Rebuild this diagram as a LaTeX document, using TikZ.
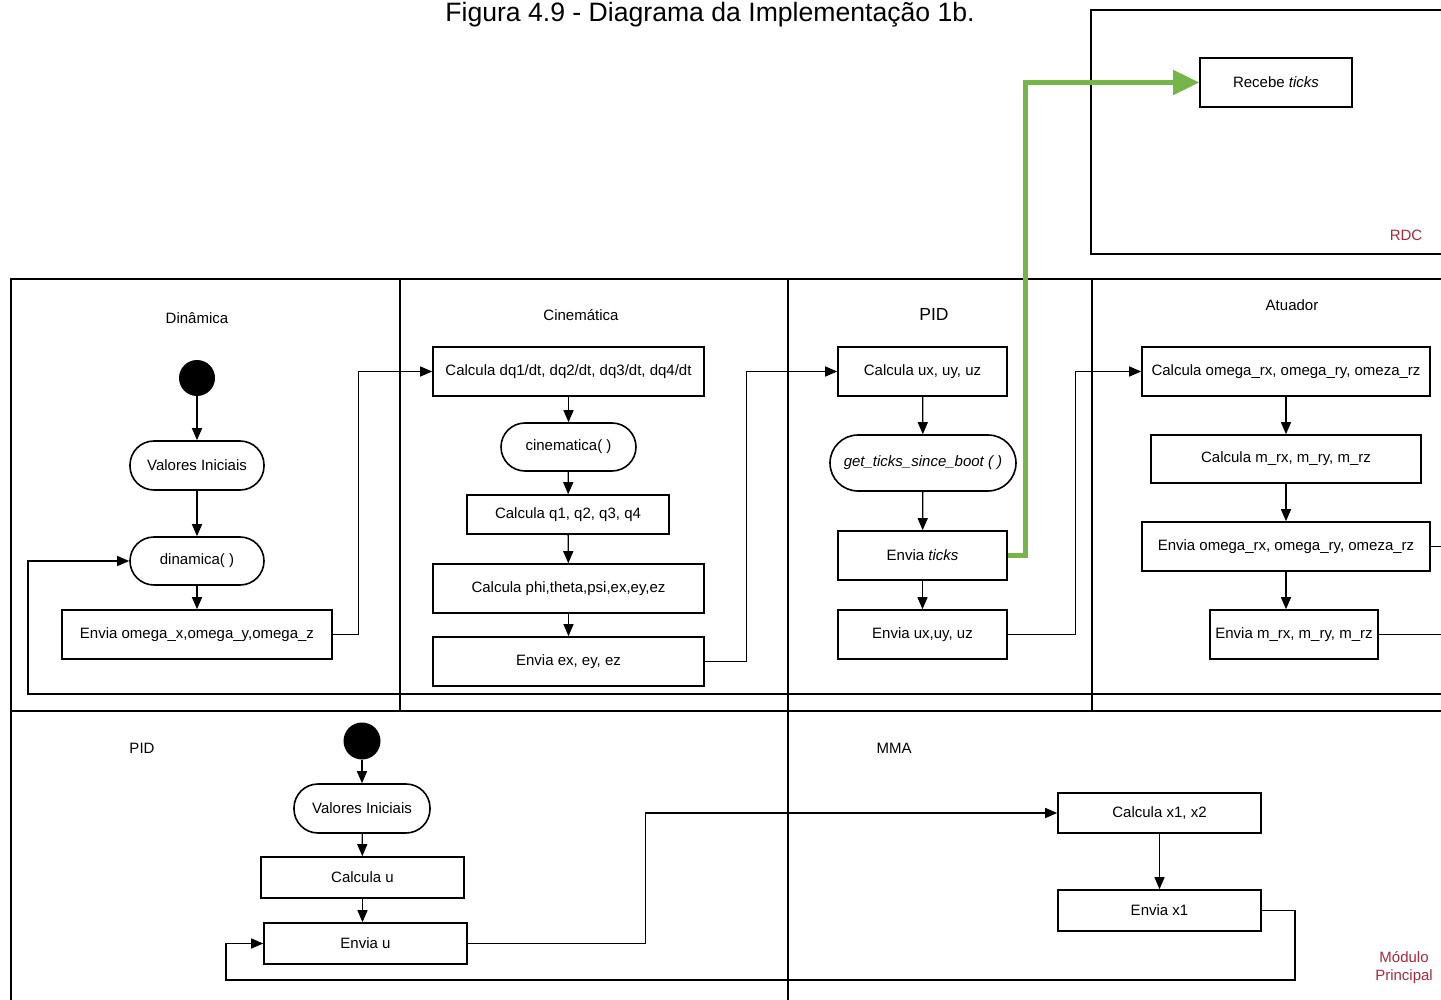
\documentclass[tikz,border=0pt]{standalone}
\usepackage{fontspec}
\setmainfont{Liberation Sans}
\usetikzlibrary{arrows.meta}
\definecolor{gr}{RGB}{118,182,72}
\definecolor{rd}{RGB}{170,40,60}
\begin{document}
\begin{tikzpicture}[x=1pt,y=-1pt,
  txt/.style={font=\fontsize{15}{18}\selectfont},
  box/.style={draw, line width=1.6pt, inner sep=0pt, txt},
  stad/.style={box, rounded corners=#1},
  stad/.default=24pt,
  conn/.style={line width=1.3pt, -{Triangle[length=12pt,width=10pt]}},
  plain/.style={line width=1.3pt},
  frame/.style={line width=1.8pt},
  dot/.style={circle, fill=black, minimum size=36pt, inner sep=0pt},
  head/.style={txt, inner sep=0pt},
]
\useasboundingbox (0,0) rectangle (1441,1000);

% title
\node[anchor=base, inner sep=0pt, font=\fontsize{26.6}{30}\selectfont] (title) at (710,22) {Figura 4.9 - Diagrama da Implementação 1b.};

% frames
\draw[frame] (11,1000) -- (11,279) -- (1441,279);
\draw[frame] (11,711) -- (1441,711);
\draw[frame] (400,279) -- (400,711);
\draw[frame] (788,279) -- (788,1000);
\draw[frame] (1092,279) -- (1092,711);
\draw[frame] (1441,10) -- (1091,10) -- (1091,254) -- (1441,254);

% headings
\node[head] (hdin) at (197,318) {Dinâmica};
\node[head] (hcin) at (581,315) {Cinemática};
\node[head, font=\fontsize{17.5}{20}\selectfont] (hpid) at (934,314) {PID};
\node[head] (hatu) at (1292,305) {Atuador};
\node[head] (hpid2) at (142,748) {PID};
\node[head] (hmma) at (894,748) {MMA};
\node[head, text=rd] (hrdc) at (1406,235) {RDC};
\node[head, text=rd, align=center] (hmp) at (1404,968) {Módulo\\Principal};

% RDC
\node[box, minimum width=152pt, minimum height=49pt] (rt) at (1276,82.5) {Recebe \textit{ticks}};

% Dinamica lane
\node[dot] (s1) at (197,378) {};
\node[stad, minimum width=134pt, minimum height=49pt] (vi1) at (197,465.5) {Valores Iniciais};
\node[stad, minimum width=134pt, minimum height=48pt] (din) at (197,561) {dinamica( )};
\node[box, minimum width=270pt, minimum height=49pt] (env1) at (197,634.5) {Envia omega\_x,omega\_y,omega\_z};

% Cinematica lane
\node[box, minimum width=271pt, minimum height=49pt] (cdq) at (568.5,371.5) {Calcula dq1/dt, dq2/dt, dq3/dt, dq4/dt};
\node[stad, minimum width=135pt, minimum height=48pt] (cin) at (568.5,447) {cinematica( )};
\node[box, minimum width=202pt, minimum height=39pt] (cq) at (568,514.5) {Calcula q1, q2, q3, q4};
\node[box, minimum width=271pt, minimum height=49pt] (cphi) at (568.5,588.5) {Calcula phi,theta,psi,ex,ey,ez};
\node[box, minimum width=271pt, minimum height=49pt] (envex) at (568.5,661.5) {Envia ex, ey, ez};

% PID lane
\node[box, minimum width=169pt, minimum height=49pt] (cux) at (922.5,371.5) {Calcula ux, uy, uz};
\node[stad=28pt, minimum width=186pt, minimum height=56pt] (gt) at (923,463) {\textit{get\_ticks\_since\_boot ( )}};
\node[box, minimum width=169pt, minimum height=49pt] (etk) at (922.5,555.5) {Envia \textit{ticks}};
\node[box, minimum width=169pt, minimum height=49pt] (eux) at (922.5,634.5) {Envia ux,uy, uz};

% Atuador lane
\node[box, minimum width=288pt, minimum height=49pt] (com) at (1286,371.5) {Calcula omega\_rx, omega\_ry, omeza\_rz};
\node[box, minimum width=270pt, minimum height=48pt] (cm) at (1286,459) {Calcula m\_rx, m\_ry, m\_rz};
\node[box, minimum width=288pt, minimum height=49pt] (eom) at (1286,546.5) {Envia omega\_rx, omega\_ry, omeza\_rz};
\node[box, minimum width=168pt, minimum height=49pt] (emr) at (1294,634.5) {Envia m\_rx, m\_ry, m\_rz};

% bottom PID lane
\node[dot, minimum size=37pt] (s2) at (362,741) {};
\node[stad, minimum width=136pt, minimum height=49pt] (vi2) at (362,808.5) {Valores Iniciais};
\node[box, minimum width=203pt, minimum height=41pt] (cu) at (362.5,877.5) {Calcula u};
\node[box, minimum width=203pt, minimum height=41pt] (eu) at (365.5,943.5) {Envia u};

% MMA lane
\node[box, minimum width=203pt, minimum height=40pt] (cx) at (1159.5,813) {Calcula x1, x2};
\node[box, minimum width=203pt, minimum height=41pt] (ex1) at (1159.5,910.5) {Envia x1};

% edge coordinates
\coordinate (loopR) at (1441,694);
\coordinate (eomR) at (1441,546.5);
\coordinate (emrR) at (1441,634.5);

% connectors: Dinamica
\draw[conn] (s1) -- (vi1);
\draw[conn] (vi1) -- (din);
\draw[conn] (din) -- (env1);
\draw[conn] (env1.east) -- ++(26,0) |- (cdq.west);
\draw[conn] (loopR) -- (28,694) |- (din.west);

% Cinematica
\draw[conn] (cdq) -- (cin);
\draw[conn] (cin) -- (cq);
\draw[conn] (cq) -- (cphi);
\draw[conn] (cphi) -- (envex);
\draw[conn] (envex.east) -- ++(42,0) |- (cux.west);

% PID
\draw[conn] (cux) -- (gt);
\draw[conn] (gt) -- (etk);
\draw[conn] (etk) -- (eux);
\draw[conn] (eux.east) -- ++(68,0) |- (com.west);
\draw[line width=5pt, gr, -{Triangle[length=26pt,width=24pt]}] (etk.east) -- ++(18,0) |- (rt.west);

% Atuador
\draw[conn] (com) -- (cm);
\draw[conn] (cm) -- (eom);
\draw[conn] (eom.south) -- (eom.south |- emr.north);
\draw[plain] (eom.east) -- (eomR);
\draw[plain] (emr.east) -- (emrR);

% bottom
\draw[conn] (s2) -- (vi2);
\draw[conn] (vi2) -- (cu);
\draw[conn] (cu.south) -- (cu.south |- eu.north);
\draw[conn] (eu.east) -- ++(178,0) |- (cx.west);
\draw[conn] (cx) -- (ex1);
\draw[conn] (ex1.east) -| (1295,980) -- (226,980) |- (eu.west);
\end{tikzpicture}
\end{document}
